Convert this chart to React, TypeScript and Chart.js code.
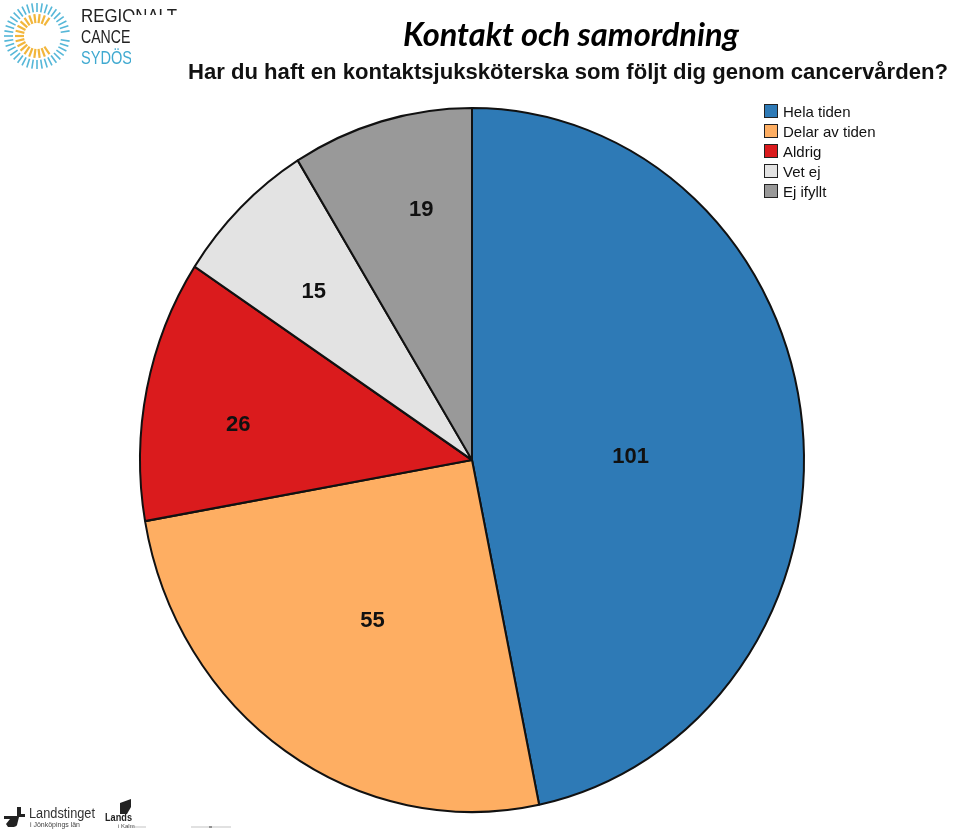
import { useEffect, useRef } from "react";
import Chart from "chart.js/auto";

const categories = ["Hela tiden", "Delar av tiden", "Aldrig", "Vet ej", "Ej ifyllt"];
const counts = [101, 55, 26, 15, 19];
const sliceColors = ["#2e7ab6", "#feae62", "#da1b1d", "#e3e3e3", "#999999"];

const titleText = "Kontakt och samordning";
const questionText = "Har du haft en kontaktsjuksköterska som följt dig genom cancervården?";

// nudges from the default label spot, the original has them hand placed
const labelNudges = [[-23, 17], [3, 1], [-55, 4], [-31, -29], [-1, -64]];

// the original pie is stretched, so squash the arcs vertically around the centre
const yStretch = 352 / 332;

const stretchPie = {
  id: "stretchPie",
  beforeDatasetsDraw(chart: any) {
    const arc = chart.getDatasetMeta(0).data[0];
    const ctx = chart.ctx;
    ctx.save();
    ctx.translate(arc.x, arc.y);
    ctx.scale(1, yStretch);
    ctx.translate(-arc.x, -arc.y);
  },
  afterDatasetsDraw(chart: any) {
    const ctx = chart.ctx;
    ctx.restore();
    // value labels
    ctx.save();
    ctx.font = "bold 22px 'Liberation Sans'";
    ctx.fillStyle = "#111";
    ctx.textAlign = "center";
    ctx.textBaseline = "middle";
    chart.getDatasetMeta(0).data.forEach((arc: any, i: number) => {
      const mid = (arc.startAngle + arc.endAngle) / 2;
      const x = arc.x + Math.cos(mid) * arc.outerRadius * 0.55 + labelNudges[i][0];
      const y = arc.y + Math.sin(mid) * arc.outerRadius * yStretch * 0.55 + labelNudges[i][1];
      ctx.fillText(String(counts[i]), x, y);
    });
    ctx.restore();
  },
};

function RcLogo() {
  const rays = [];
  for (let i = 0; i < 40; i++) {
    const a = (i / 40) * Math.PI * 2;
    if (Math.abs(Math.sin(a)) < 0.14 && Math.cos(a) > 0) continue;
    rays.push(
      <line key={"o" + i} x1={37 + Math.cos(a) * 24} y1={36 + Math.sin(a) * 24} x2={37 + Math.cos(a) * 33} y2={36 + Math.sin(a) * 33} stroke="#55b7d8" strokeWidth="1.6" />
    );
  }
  for (let i = 0; i < 26; i++) {
    const a = (i / 26) * Math.PI * 2;
    if (Math.cos(a) > 0.6) continue;
    rays.push(
      <line key={"i" + i} x1={37 + Math.cos(a) * 13} y1={36 + Math.sin(a) * 13} x2={37 + Math.cos(a) * 22} y2={36 + Math.sin(a) * 22} stroke="#f2b63c" strokeWidth="2.2" />
    );
  }
  return (
    <svg width="180" height="72" style={{ position: "absolute", left: 0, top: 0 }}>
      <defs>
        <clipPath id="logoClip">
          <rect x="0" y="0" width="131" height="72" />
          <rect x="131" y="0" width="49" height="15" />
        </clipPath>
      </defs>
      {rays}
      <g clipPath="url(#logoClip)" fontFamily="'Liberation Sans'" fontSize="19">
        <text x="81" y="22" fill="#222" textLength="96" lengthAdjust="spacingAndGlyphs">REGIONALT</text>
        <text x="81" y="43" fill="#222" textLength="130" lengthAdjust="spacingAndGlyphs">CANCERCENTRUM</text>
        <text x="81" y="64" fill="#3fa9d0" textLength="60" lengthAdjust="spacingAndGlyphs">SYDÖST</text>
      </g>
    </svg>
  );
}

function FooterLogos() {
  return (
    <svg width="240" height="40" style={{ position: "absolute", left: 0, top: 793 }}>
      <path d="M17 14 h4 v7 h4 v3 h-6 l-2 8 q-1 2 -5 2 h-4 l-2 -3 l4 -5 h-6 v-3 h13z" fill="#222" />
      <text x="29" y="25" fontFamily="'Liberation Sans'" fontSize="14" fill="#333" textLength="66" lengthAdjust="spacingAndGlyphs">Landstinget</text>
      <text x="30" y="34" fontFamily="'Liberation Sans'" fontSize="7.5" fill="#444" textLength="50" lengthAdjust="spacingAndGlyphs">i Jönköpings län</text>
      <path d="M120 10 l11 -4 v8 l-4 7 h-7z" fill="#222" />
      <text x="105" y="28" fontFamily="'Liberation Sans'" fontSize="10.5" fontWeight="bold" fill="#222" textLength="27" lengthAdjust="spacingAndGlyphs">Lands</text>
      <text x="118" y="35" fontFamily="'Liberation Sans'" fontSize="6" fill="#444">i Kalm</text>
      <line x1="131" y1="34" x2="146" y2="34" stroke="#aaa" strokeWidth="0.7" />
      <line x1="191" y1="34" x2="231" y2="34" stroke="#aaa" strokeWidth="0.7" />
      <line x1="209" y1="34" x2="212" y2="34" stroke="#444" strokeWidth="1" />
    </svg>
  );
}

export default function App() {
  const canvasRef = useRef<HTMLCanvasElement | null>(null);

  useEffect(() => {
    document.body.style.margin = "0";
    if (!canvasRef.current) return;
    const chart = new Chart(canvasRef.current, {
      type: "pie",
      data: {
        labels: categories,
        datasets: [{ data: counts, backgroundColor: sliceColors, borderColor: "#111", borderWidth: 2 }],
      },
      options: {
        responsive: false,
        animation: false,
        layout: { padding: { left: 139, right: 155, top: 127, bottom: 40 } },
        plugins: { legend: { display: false }, tooltip: { enabled: false } },
      },
      plugins: [stretchPie],
    });
    return () => chart.destroy();
  }, []);

  return (
    <div style={{ position: "relative", width: 960, height: 833, overflow: "hidden", background: "#fff" }}>
      <canvas ref={canvasRef} width={960} height={833} style={{ position: "absolute", left: 0, top: 0 }} />
      <RcLogo />
      <FooterLogos />
      <div style={{ position: "absolute", left: 403, top: 14, fontFamily: "Lato", fontStyle: "italic", fontWeight: 700, fontSize: 32.6, color: "#000", whiteSpace: "nowrap" }}>
        {titleText}
      </div>
      <div style={{ position: "absolute", left: 188, top: 59, fontFamily: "'Liberation Sans'", fontWeight: "bold", fontSize: 22.1, color: "#111", whiteSpace: "nowrap", lineHeight: "26px" }}>
        {questionText}
      </div>
      <div style={{ position: "absolute", left: 764, top: 101 }}>
        {categories.map((c, i) => (
          <div key={c} style={{ display: "flex", alignItems: "center", height: 20 }}>
            <span style={{ width: 12, height: 12, border: "1.5px solid #222", background: sliceColors[i], marginRight: 5 }} />
            <span style={{ fontFamily: "'Liberation Sans'", fontSize: 15, color: "#111", whiteSpace: "nowrap" }}>{c}</span>
          </div>
        ))}
      </div>
    </div>
  );
}
